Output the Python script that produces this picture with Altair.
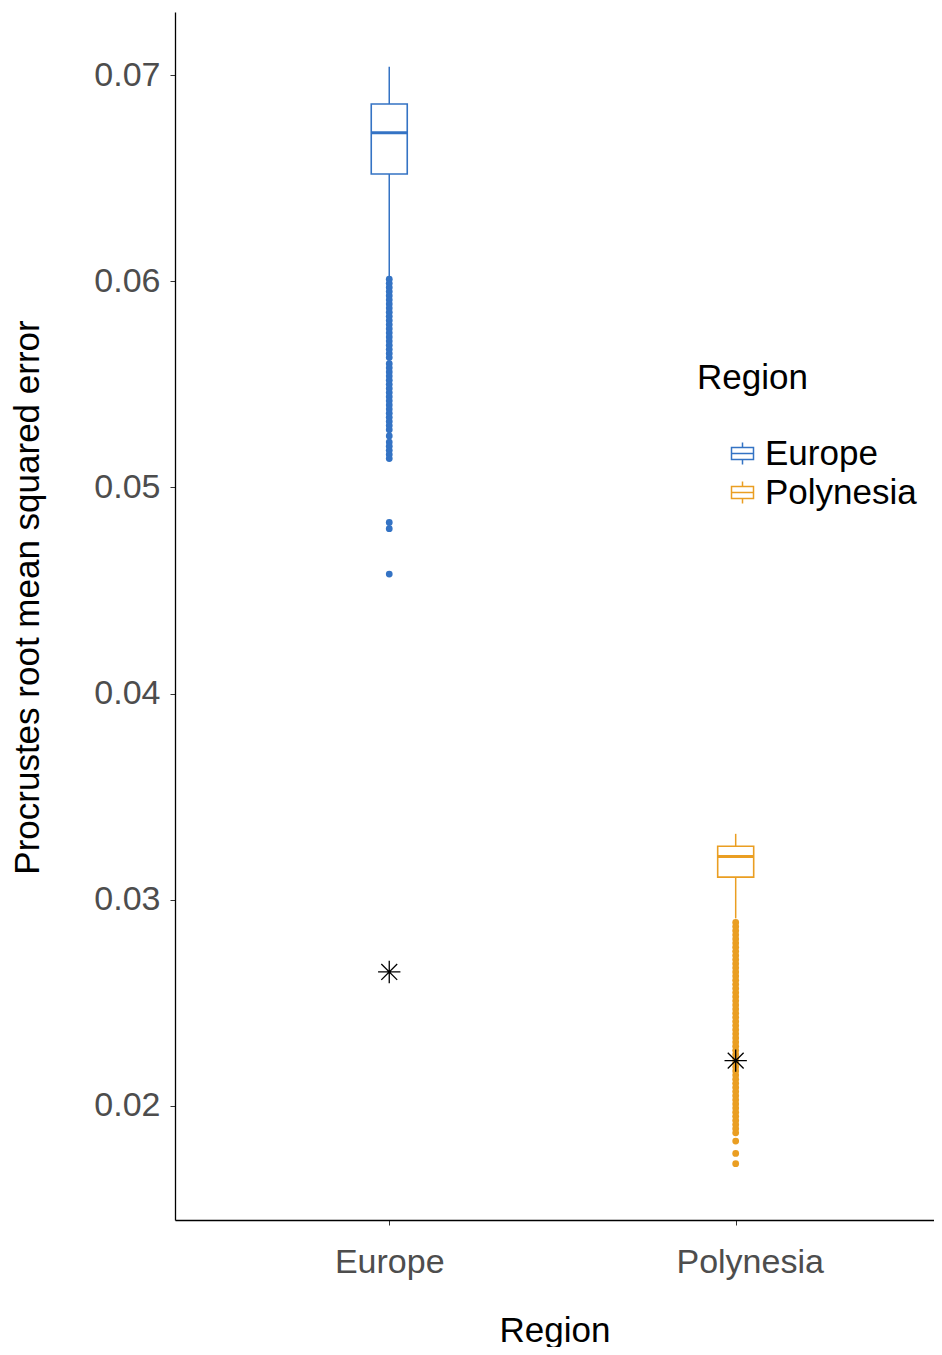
import altair as alt
import pandas as pd

# ---- data ----
regions = ["Europe", "Polynesia"]
positions = [1, 2]
whisker_low = [0.0602, 0.0291]
box_q1 = [0.0652, 0.0311]
box_median = [0.0672, 0.0321]
box_q3 = [0.0686, 0.0326]
whisker_high = [0.0704, 0.0332]
observed = [0.0265, 0.0222]

europe_outliers = [
    0.0601, 0.0599, 0.0597, 0.0595, 0.0593, 0.0591, 0.0589, 0.0587, 0.0585,
    0.0583, 0.0581, 0.0579, 0.0577, 0.0575, 0.0573, 0.0571, 0.0569, 0.0567,
    0.0565, 0.0563, 0.0560, 0.0558, 0.0556, 0.0554, 0.0552, 0.0550, 0.0548,
    0.0546, 0.0544, 0.0542, 0.0540, 0.0538, 0.0536, 0.0534, 0.0532, 0.0530,
    0.0528, 0.0525, 0.0522, 0.0520, 0.0518, 0.0516, 0.0514, 0.0483, 0.0480,
    0.0458,
]
polynesia_outliers = [
    0.0289, 0.0287, 0.0285, 0.0283, 0.0281, 0.0279, 0.0277, 0.0275, 0.0273,
    0.0271, 0.0269, 0.0267, 0.0265, 0.0263, 0.0261, 0.0259, 0.0257, 0.0255,
    0.0253, 0.0251, 0.0249, 0.0247, 0.0245, 0.0243, 0.0241, 0.0239, 0.0237,
    0.0235, 0.0233, 0.0231, 0.0229, 0.0227, 0.0225, 0.0223, 0.0221, 0.0219,
    0.0217, 0.0215, 0.0213, 0.0211, 0.0209, 0.0207, 0.0205, 0.0203, 0.0201,
    0.0199, 0.0197, 0.0195, 0.0193, 0.0191, 0.0189, 0.0187, 0.0183, 0.0177,
    0.0172,
]

colors = ["#3473C4", "#EA9E22"]

stats = pd.DataFrame({
    "Region": regions, "pos": positions, "lo": whisker_low, "q1": box_q1,
    "med": box_median, "q3": box_q3, "hi": whisker_high, "obs": observed,
})
out = pd.DataFrame({
    "Region": ["Europe"] * len(europe_outliers) + ["Polynesia"] * len(polynesia_outliers),
    "pos": [1] * len(europe_outliers) + [2] * len(polynesia_outliers),
    "val": europe_outliers + polynesia_outliers,
})

FONT = "Liberation Sans"
label_expr = "['" + "','".join(regions) + "'][datum.value - 1]"

x_enc = alt.X(
    "pos:Q",
    scale=alt.Scale(domain=[0.396, 2.558], nice=False, zero=False),
    axis=alt.Axis(
        title="Region", values=positions, labelExpr=label_expr,
        grid=False, tickSize=5, tickColor="#333333", domainColor="black",
        domainWidth=1.3, labelFontSize=34, labelColor="#4D4D4D",
        labelPadding=20, titleFontSize=35, titleColor="black",
        titleFontWeight="normal", titlePadding=34, labelFont=FONT, titleFont=FONT,
        labelOffset={"condition": {"test": "datum.value == 2", "value": 14}, "value": 0},
    ),
)
y_scale = alt.Scale(domain=[0.01447, 0.07306], nice=False, zero=False)
y_axis = alt.Axis(
    title="Procrustes root mean squared error",
    values=[0.02, 0.03, 0.04, 0.05, 0.06, 0.07], format=".2f",
    grid=False, tickSize=5, tickColor="#333333", domainColor="black",
    domainWidth=1.3, labelFontSize=34, labelColor="#4D4D4D", labelPadding=10,
    titleFontSize=35, titleColor="black", titleFontWeight="normal",
    titlePadding=48, titleY=585, labelFont=FONT, titleFont=FONT,
)
color_scale = alt.Scale(domain=regions, range=colors)

legend_path = "M0,-1L0,-0.55M-1,-0.55L1,-0.55L1,0.55L-1,0.55ZM-1,0L1,0M0,0.55L0,1"
region_legend = alt.Legend(
    title="Region", orient="none", legendX=522, legendY=349,
    symbolType=legend_path, symbolSize=484, symbolStrokeWidth=1.5,
    symbolFillColor="white", symbolOffset=28, labelOffset=5,
    rowPadding=3, titlePadding=40, padding=0, symbolOpacity=1,
    titleFontSize=35, titleFontWeight="normal", titleColor="black",
    labelFontSize=35, labelColor="black", titleFont=FONT, labelFont=FONT,
    labelLimit=400,
)

base = alt.Chart(stats)

whisk_low = base.mark_rule(strokeWidth=1.5).encode(
    x=x_enc,
    y=alt.Y("lo:Q", scale=y_scale, axis=y_axis),
    y2="q1:Q",
    color=alt.Color("Region:N", scale=color_scale, legend=region_legend),
)
whisk_high = base.mark_rule(strokeWidth=1.5).encode(
    x="pos:Q",
    y=alt.Y("q3:Q", scale=y_scale),
    y2="hi:Q",
    color=alt.Color("Region:N", scale=color_scale, legend=None),
)
box = base.mark_bar(filled=False, strokeWidth=1.6, size=36).encode(
    x="pos:Q",
    y=alt.Y("q1:Q", scale=y_scale),
    y2="q3:Q",
    color=alt.Color("Region:N", scale=color_scale, legend=None),
)
med = base.mark_tick(orient="horizontal", size=36, thickness=3, opacity=1).encode(
    x="pos:Q",
    y=alt.Y("med:Q", scale=y_scale),
    color=alt.Color("Region:N", scale=color_scale, legend=None),
)
pts = alt.Chart(out).mark_circle(size=46, opacity=1).encode(
    x="pos:Q",
    y=alt.Y("val:Q", scale=y_scale),
    color=alt.Color("Region:N", scale=color_scale, legend=None),
)
star_path = "M-1,0L1,0M0,-1L0,1M-0.71,-0.71L0.71,0.71M-0.71,0.71L0.71,-0.71"
stars = base.mark_point(shape=star_path, size=500, filled=False, stroke="black",
                        strokeWidth=1.3, opacity=1).encode(
    x="pos:Q",
    y=alt.Y("obs:Q", scale=y_scale),
)

chart = alt.layer(whisk_low, whisk_high, box, med, pts, stars).resolve_legend(
    color="independent"
).properties(
    width=759, height=1208,
    autosize=alt.AutoSizeParams(type="none"),
    padding={"left": 167, "top": 4, "right": 0, "bottom": 127},
).configure(font=FONT).configure_view(stroke="transparent", strokeWidth=0)

chart.save("out.html", embed_options={"renderer": "svg", "actions": False})
